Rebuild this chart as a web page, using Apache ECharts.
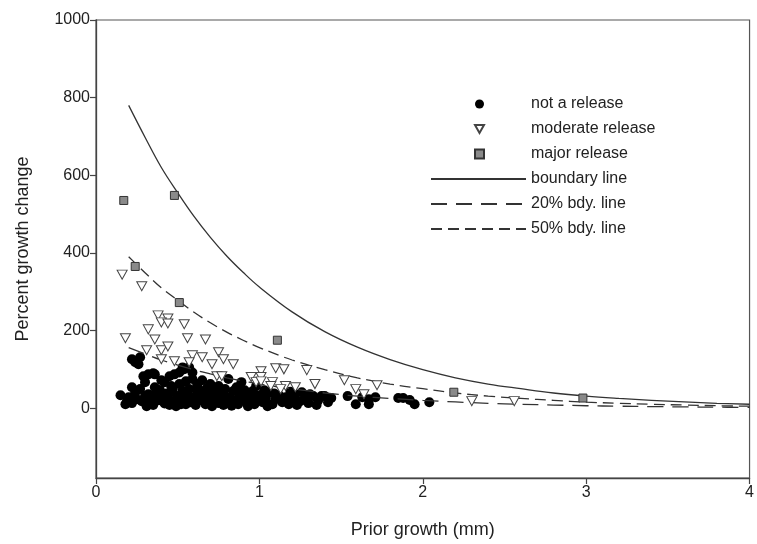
<!DOCTYPE html>
<html>
<head>
<meta charset="utf-8">
<script src="https://cdn.jsdelivr.net/npm/echarts@6/dist/echarts.min.js"></script>
<style>html,body{margin:0;padding:0;background:#fff;}#c{width:757px;height:544px;}</style>
</head>
<body>
<div id="c"></div>
<script>
// ---- data ----
const notRelease = [
  [0.22,126],[0.27,131],[0.26,113],[0.24,118],
  [0.29,82],[0.32,87],[0.35,90],[0.30,67],[0.27,49],[0.22,54],[0.32,36],[0.37,41],
  [0.45,82],[0.48,87],[0.51,92],[0.54,100],[0.57,105],[0.53,105],[0.59,92],[0.59,75],
  [0.42,67],[0.46,57],[0.51,62],[0.55,69],[0.36,87],[0.40,72],
  [0.81,75],[0.89,67],[0.98,57],[0.65,72],[0.70,62],[0.75,57],[0.62,57],
  [0.15,33],[0.18,10],[0.22,13],[0.20,28],[0.25,23],[0.28,18],[0.30,31],[0.33,15],[0.35,26],
  [0.38,20],[0.40,33],[0.42,12],[0.44,28],[0.46,41],[0.48,18],[0.50,31],[0.52,10],[0.54,23],
  [0.56,36],[0.58,15],[0.60,28],[0.62,44],[0.63,20],[0.65,33],[0.67,10],[0.68,26],[0.70,41],
  [0.72,18],[0.73,31],[0.75,13],[0.77,23],[0.78,36],[0.80,15],[0.82,28],[0.84,44],[0.85,20],
  [0.87,10],[0.88,31],[0.90,23],[0.92,15],[0.94,36],[0.95,26],[0.97,10],[0.99,20],[1.00,33],
  [1.02,15],[1.04,26],[1.06,41],[1.08,10],[1.10,23],[1.12,33],[1.14,15],[1.16,28],[1.18,10],
  [1.20,20],[1.22,36],[1.25,18],[1.28,26],[1.30,13],[1.33,31],[1.36,20],[1.38,31],[1.40,31],[1.44,26],
  [0.47,49],[0.57,49],[0.68,52],[0.79,49],[0.86,54],[1.03,46],[0.36,54],[0.62,62],[0.73,46],
  [0.91,46],[0.55,10],[0.45,8],[0.35,8],[0.78,8],[1.26,41],
  [0.19,18],[0.24,40],[0.31,5],[0.39,47],[0.43,38],[0.49,5],[0.53,45],[0.61,8],[0.66,44],
  [0.71,5],[0.76,46],[0.83,6],[0.89,40],[0.93,5],[0.96,44],[1.05,5],[1.09,38],[1.19,42],
  [1.23,8],[1.31,36],[1.35,8],[1.42,15],
  [1.54,31],[1.59,10],[1.63,28],[1.67,23],[1.71,28],[1.67,10],[1.85,26],[1.88,26],[1.92,21],
  [1.95,10],[2.04,15]
];
const moderateRelease = [
  [0.16,344],[0.28,314],[0.38,239],[0.44,231],[0.40,221],[0.44,218],[0.54,216],[0.32,203],
  [0.18,180],[0.36,177],[0.56,180],[0.67,177],[0.31,149],[0.40,149],[0.44,159],[0.40,126],
  [0.48,121],[0.59,136],[0.65,131],[0.75,144],[0.78,126],[0.71,113],[0.84,113],[0.57,118],
  [0.74,82],[0.77,82],[1.01,95],[1.01,80],[0.95,80],[1.10,103],[1.15,100],[1.29,98],
  [0.98,67],[1.01,69],[1.08,67],[1.07,57],[1.16,57],[1.22,54],[1.34,62],[1.13,49],
  [1.52,72],[1.59,49],[1.64,36],[1.72,59],[2.30,18],[2.56,18]
];
const majorRelease = [
  [0.17,535],[0.48,548],[0.24,365],[0.51,272],[1.11,175],[2.19,41],[2.98,26]
];
const curveX    = [0.2,0.3,0.4,0.5,0.6,0.7,0.8,0.9,1.0,1.2,1.4,1.6,1.8,2.0,2.2,2.4,2.6,2.8,3.0,3.2,3.4,3.6,3.8,4.0];
const boundaryY = [780,698,620,555,494,440,392,350,312,248,197,157,125,99,78,62,50,39,31,25,20,16,12.5,10];
const bdy50Y    = [390,349,310,278,247,220,196,175,156,124,99,78,62,50,39,31,25,20,15.5,12.5,10,8,6.2,5];
const bdy20Y    = [156,140,124,111,99,88,78,70,62,50,39,31,25,20,16,12.5,10,8,6.2,5,4,3.2,2.5,2];
const yTicks    = [0,200,400,600,800,1000];
const xTicks    = [0,1,2,3,4];

const pair = (xs, ys) => xs.map((x, i) => [x, ys[i]]);
const FONT = '"Liberation Sans", Arial, Helvetica, sans-serif';
const TXT = '#222';
const AX = '#444';
const triPath = 'path://M0,0L10,0L5,9Z';

const chart = echarts.init(document.getElementById('c'), null, {renderer: 'canvas'});
chart.setOption({
  animation: false,
  backgroundColor: '#fff',
  textStyle: {fontFamily: FONT},
  grid: {left: 96, right: 3, top: 20, bottom: 65, show: true, borderColor: '#555', borderWidth: 1.2, backgroundColor: 'transparent'},
  xAxis: {
    type: 'value', min: 0, max: 4, interval: 1,
    name: 'Prior growth (mm)', nameLocation: 'middle', nameGap: 43,
    nameTextStyle: {fontSize: 18, color: TXT, fontFamily: FONT},
    axisLine: {show: true, onZero: false, lineStyle: {color: AX, width: 1.3}},
    axisTick: {show: true, inside: false, length: 6, customValues: xTicks, lineStyle: {color: AX, width: 1.2}},
    axisLabel: {fontSize: 16, color: TXT, margin: 7, customValues: xTicks, fontFamily: FONT},
    splitLine: {show: false}
  },
  yAxis: {
    type: 'value', min: -180, max: 1000,
    name: 'Percent growth change', nameLocation: 'middle', nameGap: 64, nameRotate: 90,
    nameTextStyle: {fontSize: 18, color: TXT, fontFamily: FONT},
    axisLine: {show: true, onZero: false, lineStyle: {color: AX, width: 1.3}},
    axisTick: {show: true, inside: false, length: 6, customValues: yTicks, lineStyle: {color: AX, width: 1.2}},
    axisLabel: {fontSize: 16, color: TXT, margin: 6, customValues: yTicks, fontFamily: FONT,
      formatter: v => String(v)},
    splitLine: {show: false}
  },
  legend: [
    {
      orient: 'vertical', left: 474, top: 95, padding: 0, itemWidth: 9, itemHeight: 9, itemGap: 7,
      textStyle: {fontSize: 16, color: TXT, lineHeight: 18, padding: [0, 0, 0, 42], fontFamily: FONT},
      selectedMode: false,
      data: [
        {name: 'not a release', icon: 'circle'},
        {name: 'moderate release', icon: triPath},
        {name: 'major release', icon: 'rect'}
      ]
    },
    {
      orient: 'vertical', left: 430, top: 170, padding: 0, itemWidth: 95, itemHeight: 12, itemGap: 7,
      textStyle: {fontSize: 16, color: TXT, lineHeight: 18, fontFamily: FONT},
      itemStyle: {opacity: 0},
      selectedMode: false,
      data: ['boundary line', '20% bdy. line', '50% bdy. line']
    }
  ],
  series: [
    {
      name: 'boundary line', type: 'line', data: pair(curveX, boundaryY), smooth: 0.4,
      symbol: 'none', showSymbol: false, z: 3,
      lineStyle: {color: '#333', width: 1.3, type: 'solid'}, itemStyle: {color: '#333'}
    },
    {
      name: '20% bdy. line', type: 'line', data: pair(curveX, bdy20Y), smooth: 0.4,
      symbol: 'none', showSymbol: false, z: 3,
      lineStyle: {color: '#333', width: 1.3, type: [16, 9]}, itemStyle: {color: '#333'}
    },
    {
      name: '50% bdy. line', type: 'line', data: pair(curveX, bdy50Y), smooth: 0.4,
      symbol: 'none', showSymbol: false, z: 3,
      lineStyle: {color: '#333', width: 1.3, type: [11, 6]}, itemStyle: {color: '#333'}
    },
    {
      name: 'not a release', type: 'scatter', data: notRelease, symbol: 'circle', symbolSize: 10, z: 2,
      itemStyle: {color: '#000', opacity: 1}
    },
    {
      name: 'moderate release', type: 'scatter', data: moderateRelease, symbol: triPath, symbolSize: [10, 9], z: 4,
      itemStyle: {color: '#fff', borderColor: '#444', borderWidth: 1, opacity: 1}
    },
    {
      name: 'major release', type: 'scatter', data: majorRelease, symbol: 'rect', symbolSize: 8, z: 5,
      itemStyle: {color: '#8a8a8a', borderColor: '#333', borderWidth: 1, opacity: 1}
    }
  ]
});
</script>
</body>
</html>
